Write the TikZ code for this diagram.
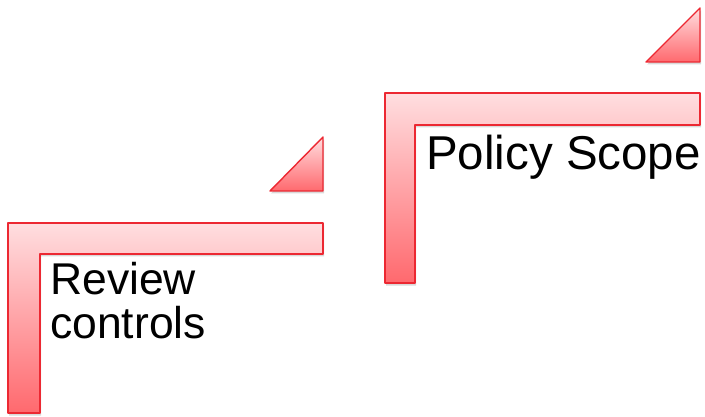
\documentclass[tikz,border=0pt]{standalone}
\usepackage{fontspec}
\setmainfont{Liberation Sans}
\usetikzlibrary{shadows}
\definecolor{stepred}{RGB}{236,40,50}
\definecolor{steplight}{RGB}{255,222,224}
\definecolor{stepdark}{RGB}{255,105,110}
\tikzset{
  stepbar/.style={draw=stepred, line width=1.4pt, line join=round, top color=steplight, bottom color=stepdark,
    drop shadow={opacity=0.3, shadow xshift=1pt, shadow yshift=-2.5pt}},
  steplabel/.style={anchor=base west, inner sep=0pt, align=left, text=black}
}
\begin{document}
\begin{tikzpicture}[x=1pt, y=-1pt]
\useasboundingbox (0,0) rectangle (705,417);
% lower step
\path[stepbar] (8,223) -- (323,223) -- (323,254) -- (40,254) -- (40,413) -- (8,413) -- cycle;
\path[stepbar] (270,191) -- (323,191) -- (323,137) -- cycle;
\node[steplabel, font=\fontsize{44.5}{44}\selectfont] (review) at (50,338) {Review\\controls};

% upper step
\path[stepbar] (385,93) -- (700,93) -- (700,125) -- (415,125) -- (415,283) -- (385,283) -- cycle;
\path[stepbar] (646,62) -- (700,62) -- (700,8) -- cycle;
\node[steplabel, font=\fontsize{47.5}{50}\selectfont] (policy) at (426,170) {Policy Scope};
\end{tikzpicture}
\end{document}
